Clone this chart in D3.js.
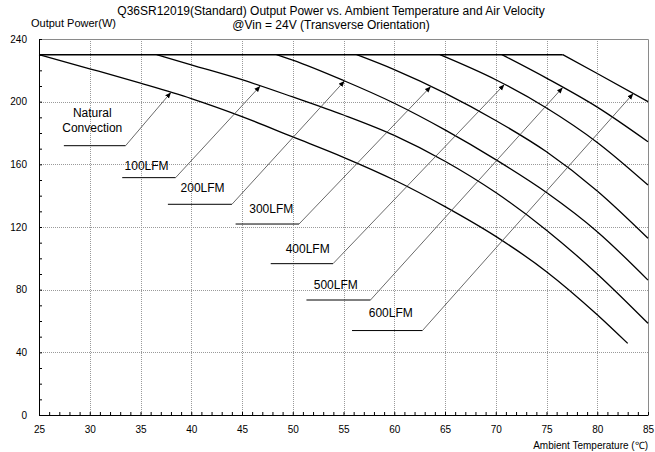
<!DOCTYPE html>
<html><head><meta charset="utf-8">
<script src="https://cdn.jsdelivr.net/npm/d3@7"></script>
<style>
body{margin:0;background:#fff}
svg{display:block}
text{font-family:"Liberation Sans",Arial,sans-serif;fill:#000}
</style>
</head><body>
<svg id="chart" width="655" height="452"></svg>
<script>
// ---------------- data ----------------
const titleLines = ["Q36SR12019(Standard) Output Power vs. Ambient Temperature and Air Velocity",
                    "@Vin = 24V (Transverse Orientation)"];
const yTitle = "Output Power(W)";
const xTitle = "Ambient Temperature (\u2103)";
const xTickLabels = [25,30,35,40,45,50,55,60,65,70,75,80,85];
const yTickLabels = [0,40,80,120,160,200,240];
const ratedPower = 230;

const seriesNames = ["Natural\nConvection","100LFM","200LFM","300LFM","400LFM","500LFM","600LFM"];
// [ambient temperature (°C), output power (W)]
const naturalConvection = [[25,230],[30,221],[35,211.8],[40,202],[45,190.5],[50,177.5],[55,164.5],[60,150],[65,133],[70,114],[75,91.5],[80,64],[83,45.7]];
const lfm100 = [[36.6,230],[40,223.5],[45,214],[50,203],[55,191.5],[60,178.5],[65,162],[70,142],[75,118],[80,90],[85,58.5]];
const lfm200 = [[48.4,230],[50,226.5],[55,213.5],[60,199],[65,182],[70,163],[75,142],[80,117],[85,86.1]];
const lfm300 = [[56.3,230],[60,220.5],[65,205.5],[70,188],[75,168],[80,143],[85,112.8]];
const lfm400 = [[64.5,230],[70,214],[75,196],[80,174],[85,146.8]];
const lfm500 = [[70.6,230],[75,215],[80,196.5],[85,174.4]];
const lfm600 = [[76.6,230],[80,218],[85,200]];
const seriesValues = [naturalConvection, lfm100, lfm200, lfm300, lfm400, lfm500, lfm600];
// temperature at which each label's arrow touches its curve
const arrowTemps = [38, 46.8, 55.1, 63.6, 70.85, 76.6, 83.55];

// ---------------- layout (data units) ----------------
const labelLayout = [
  {tx:30.25, ty:193.2, anchor:"middle", ux1:27.45, ux2:33.53, uy:171.9},
  {tx:33.43, ty:158.9, anchor:"start", ux1:33.2,  ux2:38.46, uy:151.5},
  {tx:38.95, ty:144.9, anchor:"start", ux1:37.7,  ux2:44.01, uy:134.5},
  {tx:45.71, ty:131.4, anchor:"start", ux1:44.37, ux2:50.62, uy:121.9},
  {tx:49.3,  ty:106.0, anchor:"start", ux1:47.83, ux2:53.97, uy:96.6},
  {tx:52.07, ty:83.0,  anchor:"start", ux1:51.35, ux2:57.66, uy:73.4},
  {tx:57.49, ty:65.3,  anchor:"start", ux1:55.84, ux2:62.78, uy:53.9}
];

const W = 655, H = 452;
const m = {left:39, right:7, top:39, bottom:37};
const svg = d3.select("#chart");
const x = d3.scaleLinear().domain([25,85]).range([m.left, W - m.right]);
const y = d3.scaleLinear().domain([0,240]).range([H - m.bottom, m.top]);

// grid
const grid = svg.append("g").attr("stroke","#9a9a9a").attr("stroke-width",1).attr("stroke-dasharray","1,1");
grid.selectAll("line.v").data(xTickLabels.slice(1,-1)).join("line")
  .attr("x1",d=>Math.round(x(d))+0.5).attr("x2",d=>Math.round(x(d))+0.5)
  .attr("y1",y(240)).attr("y2",y(0));
grid.selectAll("line.h").data(yTickLabels.slice(1,-1)).join("line")
  .attr("y1",d=>Math.round(y(d))+0.5).attr("y2",d=>Math.round(y(d))+0.5)
  .attr("x1",x(25)).attr("x2",x(85));
// top & right border
svg.append("path").attr("fill","none").attr("stroke","#8a8a8a")
  .attr("d",`M${x(25)},${Math.round(y(240))+0.5}H${Math.round(x(85))+0.5}V${y(0)}`);

// axes
const xAxis = svg.append("g").attr("transform",`translate(0,${Math.round(y(0))})`)
  .call(d3.axisBottom(x).tickValues(d3.range(25,86,1)).tickSizeInner(-3).tickSizeOuter(0).tickPadding(11)
    .tickFormat(d => d % 5 === 0 ? d : ""));
const yAxis = svg.append("g").attr("transform",`translate(${m.left},0)`)
  .call(d3.axisLeft(y).tickValues(d3.range(0,241,10)).tickSizeInner(-3).tickSizeOuter(0).tickPadding(12)
    .tickFormat(d => d % 40 === 0 ? d : ""));
[xAxis,yAxis].forEach(g=>{
  g.selectAll("text").attr("font-size","10px").attr("font-family","Liberation Sans, Arial, sans-serif");
  g.select(".domain").attr("stroke","#000");
  g.selectAll(".tick line").attr("stroke","#000");
});

// rated power flat line
const lastStart = d3.max(seriesValues, s => s[0][0]);
svg.append("line").attr("x1",x(25)).attr("x2",x(lastStart))
  .attr("y1",y(ratedPower)).attr("y2",y(ratedPower))
  .attr("stroke","#000").attr("stroke-width",1.5);

// curves
const line = d3.line().x(d=>x(d[0])).y(d=>y(d[1])).curve(d3.curveMonotoneX);
svg.append("g").selectAll("path").data(seriesValues).join("path")
  .attr("fill","none").attr("stroke","#000").attr("stroke-width",1.3)
  .attr("d", line);

// arrow marker
svg.append("defs").append("marker").attr("id","ah")
  .attr("markerUnits","userSpaceOnUse").attr("markerWidth",8).attr("markerHeight",6)
  .attr("refX",6).attr("refY",2.5).attr("orient","auto")
  .append("path").attr("d","M0,0L6,2.5L0,5Z").attr("fill","#000");

// annotations
const ann = svg.append("g");
seriesNames.forEach((name,i)=>{
  const L = labelLayout[i];
  const s = seriesValues[i];
  const interp = d3.scaleLinear().domain(s.map(d=>d[0])).range(s.map(d=>d[1]));
  const tipT = arrowTemps[i], tipP = interp(tipT);
  ann.append("line").attr("x1",x(L.ux1)).attr("x2",x(L.ux2))
    .attr("y1",y(L.uy)).attr("y2",y(L.uy)).attr("stroke","#000").attr("stroke-width",1);
  ann.append("line").attr("x1",x(L.ux2)).attr("y1",y(L.uy))
    .attr("x2",x(tipT)).attr("y2",y(tipP))
    .attr("stroke","#444").attr("stroke-width",0.8).attr("marker-end","url(#ah)");
  const lines = name.split("\n");
  lines.forEach((t,j)=>{
    ann.append("text").attr("x",x(L.tx)).attr("y",y(L.ty)+ j*15)
      .attr("dy","0.36em").attr("text-anchor",L.anchor).attr("font-size","12px").text(t);
  });
});

// titles
svg.append("text").attr("x",331).attr("y",15).attr("text-anchor","middle").attr("font-size","12px").text(titleLines[0]);
svg.append("text").attr("x",331).attr("y",29).attr("text-anchor","middle").attr("font-size","12px").text(titleLines[1]);
svg.append("text").attr("x",31).attr("y",27).attr("font-size","11px").text(yTitle);
svg.append("text").attr("x",x(85)).attr("y",449).attr("text-anchor","end").attr("font-size","10px").text(xTitle);
</script>
</body></html>
